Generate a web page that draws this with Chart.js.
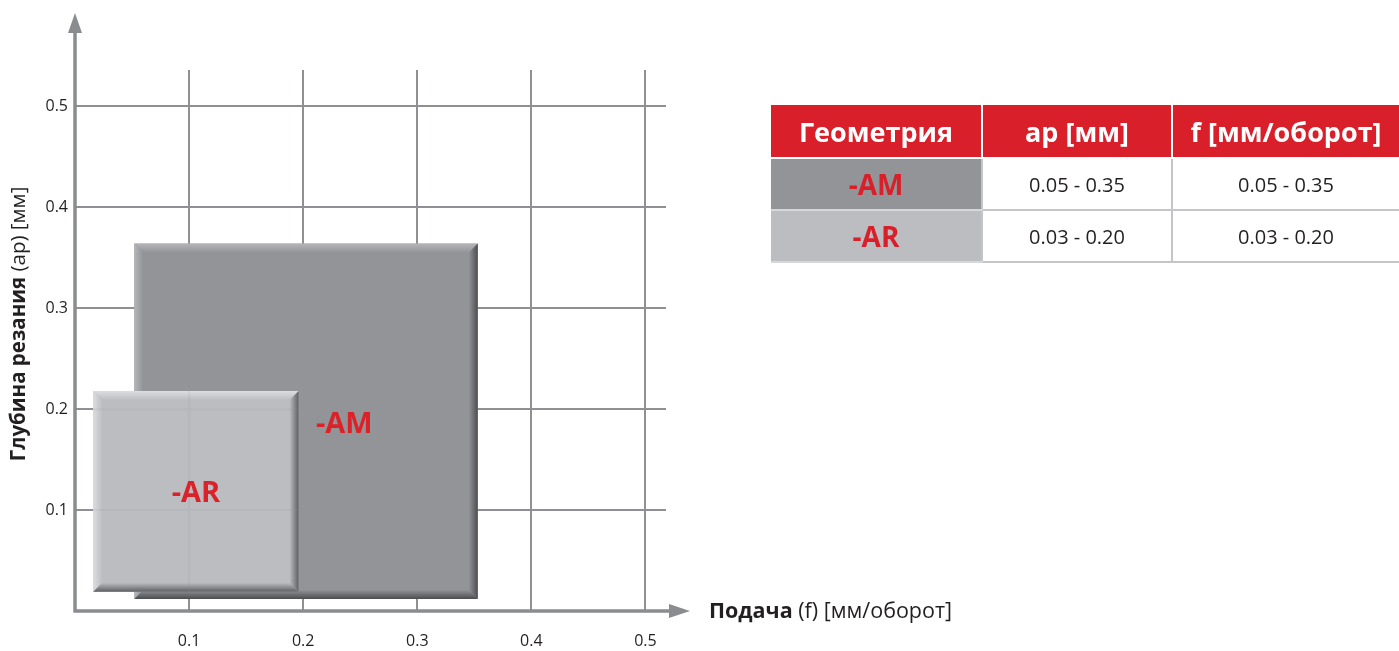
<!DOCTYPE html>
<html>
<head>
<meta charset="utf-8">
<script src="https://cdn.jsdelivr.net/npm/chart.js@4.4.0/dist/chart.umd.min.js"></script>
<style>
html, body { margin: 0; padding: 0; background: #fff; }
#wrap { position: relative; width: 1399px; height: 651px; overflow: hidden; }
#chart { position: absolute; left: 0; top: 0; }
#geoTable { position: absolute; left: 771px; top: 105px; width: 628px; border-collapse: collapse; table-layout: fixed; font-family: "Open Sans", sans-serif; }
#geoTable th { background: #d91f2a; color: #fff; font-weight: 700; font-size: 27px; height: 52px; padding: 0; border-left: 2px solid #fff; border-bottom: 2px solid #fff; white-space: nowrap; }
#geoTable th:first-child { border-left: none; }
#geoTable td { height: 50px; padding: 0; text-align: center; font-size: 20px; color: #231f20; border-left: 2px solid #c4c5c8; border-bottom: 2px solid #c4c5c8; }
#geoTable td.geo { border-left: none; color: #d91f2a; font-weight: 700; font-size: 28px; border-bottom: 2px solid #d6d7d9; }
</style>
</head>
<body>
<div id="wrap">
  <canvas id="chart" width="1399" height="651"></canvas>
  <table id="geoTable">
    <colgroup><col style="width:211px"><col style="width:190px"><col style="width:227px"></colgroup>
    <thead><tr id="headRow"></tr></thead>
    <tbody id="tableBody"></tbody>
  </table>
</div>
<script>
// axis ticks
const tickValues = [0.1, 0.2, 0.3, 0.4, 0.5];
const tickLabels = ['0.1', '0.2', '0.3', '0.4', '0.5'];

// geometry boxes (feed f, depth ap)
const geometries = ['-AM', '-AR'];
const feedFrom = [0.052, 0.016];
const feedTo = [0.353, 0.196];
const depthFrom = [0.012, 0.019];
const depthTo = [0.364, 0.218];

// table
const tableHeaders = ['Геометрия', 'ap [мм]', 'f [мм/оборот]'];
const apRanges = ['0.05 - 0.35', '0.03 - 0.20'];
const fRanges = ['0.05 - 0.35', '0.03 - 0.20'];

const boxColors = ['#939498', '#bcbdc1'];
const lightColors = ['#b4b5b8', '#dcdde0'];
const darkColors = ['#4c4d51', '#5e5f63'];
const labelAt = [[0.236, 0.185], [0.106, 0.116]];
const red = '#dc2229';
const textColor = '#231f20';
const axisColor = '#8b8c90';
const gridColor = '#8f9094';

// build the table
let headRow = document.getElementById('headRow');
tableHeaders.forEach(function(h){
    let th = document.createElement('th');
    th.textContent = h;
    headRow.appendChild(th);
});
let body = document.getElementById('tableBody');
geometries.forEach(function(g, i){
    let tr = document.createElement('tr');
    let c0 = document.createElement('td');
    c0.className = 'geo';
    c0.style.background = boxColors[i];
    c0.textContent = g;
    let c1 = document.createElement('td');
    c1.textContent = apRanges[i];
    let c2 = document.createElement('td');
    c2.textContent = fRanges[i];
    tr.appendChild(c0); tr.appendChild(c1); tr.appendChild(c2);
    body.appendChild(tr);
});

function band(ctx, pts, gx0, gy0, gx1, gy1, c0, c1){
    let grad = ctx.createLinearGradient(gx0, gy0, gx1, gy1);
    grad.addColorStop(0, c0);
    grad.addColorStop(1, c1);
    ctx.fillStyle = grad;
    ctx.beginPath();
    ctx.moveTo(pts[0][0], pts[0][1]);
    for (let k = 1; k < pts.length; k++) ctx.lineTo(pts[k][0], pts[k][1]);
    ctx.closePath();
    ctx.fill();
}

function bevelBox(ctx, x0, y0, x1, y1, base, light, dark){
    const b = 9;
    ctx.fillStyle = base;
    ctx.fillRect(x0, y0, x1 - x0, y1 - y0);
    band(ctx, [[x0, y0], [x1, y0], [x1 - b, y0 + b], [x0 + b, y0 + b]], x0, y0, x0, y0 + b, light, base);
    band(ctx, [[x0, y0], [x0 + b, y0 + b], [x0 + b, y1 - b], [x0, y1]], x0, y0, x0 + b, y0, light, base);
    band(ctx, [[x1, y0], [x1, y1], [x1 - b, y1 - b], [x1 - b, y0 + b]], x1 - b, y0, x1, y0, base, dark);
    band(ctx, [[x0, y1], [x1, y1], [x1 - b, y1 - b], [x0 + b, y1 - b]], x0, y1 - b, x0, y1, base, dark);
}

const boxPlugin = {
    id: 'boxes',
    afterDatasetsDraw(chart){
        const ctx = chart.ctx;
        const xs = chart.scales.x, ys = chart.scales.y;
        const a = chart.chartArea;
        geometries.forEach(function(g, i){
            let x0 = xs.getPixelForValue(feedFrom[i]), x1 = xs.getPixelForValue(feedTo[i]);
            let y0 = ys.getPixelForValue(depthTo[i]), y1 = ys.getPixelForValue(depthFrom[i]);
            ctx.save();
            bevelBox(ctx, x0, y0, x1, y1, boxColors[i], lightColors[i], darkColors[i]);
            if (i > 0) {
                // the front box is slightly see-through: grid faintly shows
                ctx.beginPath();
                ctx.rect(x0, y0, x1 - x0, y1 - y0);
                ctx.clip();
                ctx.globalAlpha = 0.13;
                ctx.strokeStyle = gridColor;
                ctx.lineWidth = 2;
                ctx.beginPath();
                tickValues.forEach(function(v){
                    ctx.moveTo(xs.getPixelForValue(v), a.top);
                    ctx.lineTo(xs.getPixelForValue(v), a.bottom);
                    ctx.moveTo(a.left, ys.getPixelForValue(v));
                    ctx.lineTo(a.right, ys.getPixelForValue(v));
                });
                ctx.stroke();
            }
            ctx.restore();
        });
        ctx.save();
        ctx.fillStyle = red;
        ctx.font = 'bold 29px "Open Sans"';
        ctx.textAlign = 'center';
        ctx.textBaseline = 'middle';
        geometries.forEach(function(g, i){
            ctx.fillText(g, xs.getPixelForValue(labelAt[i][0]), ys.getPixelForValue(labelAt[i][1]));
        });
        ctx.restore();
    }
};

function mixedText(ctx, x, y, boldPart, normalPart, size){
    ctx.font = 'bold ' + size + 'px "Open Sans"';
    let w1 = ctx.measureText(boldPart).width;
    ctx.fillText(boldPart, x, y);
    ctx.font = size + 'px "Open Sans"';
    ctx.fillText(normalPart, x + w1, y);
    return w1 + ctx.measureText(normalPart).width;
}

const axesPlugin = {
    id: 'arrowAxes',
    afterDraw(chart){
        const ctx = chart.ctx;
        const a = chart.chartArea;
        ctx.save();
        ctx.strokeStyle = axisColor;
        ctx.fillStyle = axisColor;
        ctx.lineWidth = 3.5;
        ctx.beginPath();
        ctx.moveTo(a.left, a.bottom + 1.5);
        ctx.lineTo(a.left, a.top - 38);
        ctx.moveTo(a.left - 1.5, a.bottom);
        ctx.lineTo(a.right + 3, a.bottom);
        ctx.stroke();
        ctx.beginPath();
        ctx.moveTo(a.left - 7, a.top - 37);
        ctx.lineTo(a.left + 7, a.top - 37);
        ctx.lineTo(a.left, a.top - 57);
        ctx.closePath();
        ctx.fill();
        ctx.beginPath();
        ctx.moveTo(a.right + 3, a.bottom - 7);
        ctx.lineTo(a.right + 3, a.bottom + 7);
        ctx.lineTo(a.right + 24, a.bottom);
        ctx.closePath();
        ctx.fill();

        // axis titles
        ctx.fillStyle = textColor;
        ctx.textBaseline = 'middle';
        ctx.textAlign = 'left';
        mixedText(ctx, a.right + 43, a.bottom + 1, 'Подача', ' (f) [мм/оборот]', 21.5);

        ctx.translate(19, 324);
        ctx.rotate(-Math.PI / 2);
        ctx.font = 'bold 20.5px "Open Sans"';
        let wb = ctx.measureText('Глубина резания').width;
        ctx.font = '20.5px "Open Sans"';
        let wn = ctx.measureText(' (ap) [мм]').width;
        mixedText(ctx, -(wb + wn) / 2, 0, 'Глубина резания', ' (ap) [мм]', 20.5);
        ctx.restore();
    }
};

const tickFont = { family: '"Open Sans"', size: 16 };

new Chart(document.getElementById('chart').getContext('2d'), {
    type: 'scatter',
    data: {
        datasets: geometries.map(function(g, i){
            return {
                label: g,
                data: [{ x: feedFrom[i], y: depthFrom[i] }, { x: feedTo[i], y: depthTo[i] }],
                pointRadius: 0,
                showLine: false
            };
        })
    },
    options: {
        responsive: false,
        animation: false,
        layout: { padding: { left: 0, top: 70, right: 733, bottom: 0 } },
        plugins: { legend: { display: false }, tooltip: { enabled: false } },
        scales: {
            x: {
                type: 'linear',
                min: 0,
                max: 0.518,
                afterBuildTicks: function(s){ s.ticks = tickValues.map(function(v){ return { value: v }; }); },
                afterFit: function(s){ s.height = 40; },
                ticks: { callback: function(v, i){ return tickLabels[i]; }, font: tickFont, color: textColor, padding: 21, maxRotation: 0 },
                grid: { color: gridColor, lineWidth: 2, drawTicks: false },
                border: { display: false }
            },
            y: {
                type: 'linear',
                min: 0,
                max: 0.536,
                afterBuildTicks: function(s){ s.ticks = tickValues.map(function(v){ return { value: v }; }); },
                afterFit: function(s){ s.width = 75; },
                ticks: { callback: function(v, i){ return tickLabels[i]; }, font: tickFont, color: textColor, padding: 7 },
                grid: { color: gridColor, lineWidth: 2, drawTicks: false },
                border: { display: false }
            }
        }
    },
    plugins: [boxPlugin, axesPlugin]
});
</script>
</body>
</html>
